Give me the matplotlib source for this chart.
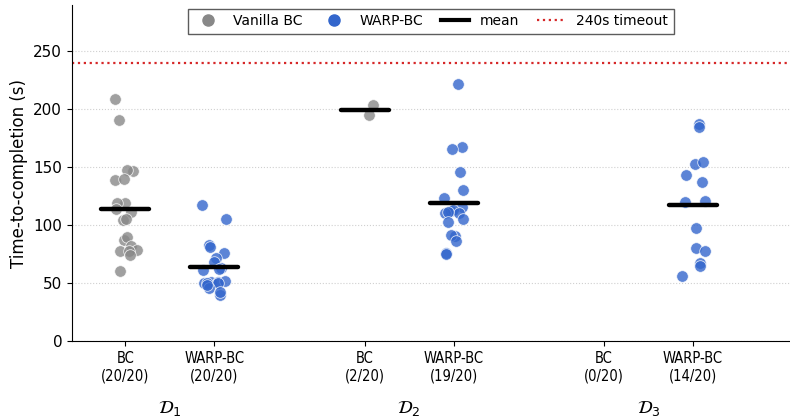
import numpy as np
import matplotlib
matplotlib.use("Agg")
import matplotlib.pyplot as plt
from matplotlib.lines import Line2D

# completion times (s)
d1_bc = [208.5, 191, 147, 148, 139, 140, 119, 119, 111, 114, 104.5, 105,
         87, 90, 82, 79, 78, 78, 74, 60.5]
d1_warp = [117.6, 105, 83, 81.6, 76, 72, 68.6, 63, 61.5, 62, 51, 50, 51,
           52, 50.5, 50, 45.5, 40, 42.6, 48]
d2_bc = [204, 195.5]
d2_warp = [221.5, 167.5, 166, 145.6, 130, 123.4, 116, 112, 113, 110.5, 110.5,
           111, 105.5, 102.6, 91, 91.7, 86.5, 76.4, 75.5]
d3_bc = []
d3_warp = [186.9, 184.5, 152.9, 154.6, 143.3, 137.1, 119.7, 121.1, 97.5,
           80.7, 77.5, 67.7, 64.9, 56.5]

groups = ["$\\mathcal{D}_1$", "$\\mathcal{D}_2$", "$\\mathcal{D}_3$"]
bc_runs = [d1_bc, d2_bc, d3_bc]
warp_runs = [d1_warp, d2_warp, d3_warp]
n_trials = 20
timeout = 240

gray = "#888888"
blue = "#3366cc"
gap = 2.69

rng = np.random.default_rng(3)
fig, ax = plt.subplots(figsize=(7.9, 4.18), dpi=100)

ticks, labels = [], []
for i, (bc, warp) in enumerate(zip(bc_runs, warp_runs)):
    for j, (vals, col, name) in enumerate([(bc, gray, "BC"), (warp, blue, "WARP-BC")]):
        pos = i * gap + j
        ticks.append(pos)
        labels.append(f"{name}\n({len(vals)}/{n_trials})")
        if len(vals) == 0:
            continue
        xs = pos + rng.uniform(-0.14, 0.14, len(vals))
        ax.scatter(xs, vals, s=70, color=col, alpha=0.8, edgecolor="white",
                   linewidth=0.6, zorder=3)
        ax.plot([pos - 0.27, pos + 0.27], [np.mean(vals)] * 2, color="black",
                lw=3.2, solid_capstyle="round", zorder=4)
    ax.text(i * gap + 0.5, -0.2, groups[i], transform=ax.get_xaxis_transform(),
            ha="center", va="center", fontsize=13)

ax.axhline(timeout, color="#d62728", ls=":", lw=1.6, zorder=2)
ax.set_xticks(ticks)
ax.set_xticklabels(labels, fontsize=10.5, fontstretch="condensed")
ax.set_xlim(-0.6, 7.47)
ax.set_ylim(0, 290)
ax.set_yticks([0, 50, 100, 150, 200, 250])
ax.tick_params(axis="y", labelsize=11)
ax.set_ylabel("Time-to-completion (s)", fontsize=12)
ax.grid(axis="y", ls=":", color="#d0d0d0", lw=0.8, zorder=0)
ax.spines["top"].set_visible(False)
ax.spines["right"].set_visible(False)

handles = [
    Line2D([], [], marker="o", ls="", color=gray, markersize=8, label="Vanilla BC"),
    Line2D([], [], marker="o", ls="", color=blue, markersize=8, label="WARP-BC"),
    Line2D([], [], color="black", lw=3, label="mean"),
    Line2D([], [], color="#d62728", ls=":", lw=1.6, label="240s timeout"),
]
ax.legend(handles=handles, loc="upper center", ncol=4, fontsize=10,
          frameon=True, fancybox=False, edgecolor="#333333",
          handlelength=2.0, columnspacing=1.3, borderaxespad=0.5,
          bbox_to_anchor=(0.5, 1.01))

fig.subplots_adjust(left=0.091, right=1.0, top=0.988, bottom=0.184)
fig.savefig("out.png", dpi=100)
